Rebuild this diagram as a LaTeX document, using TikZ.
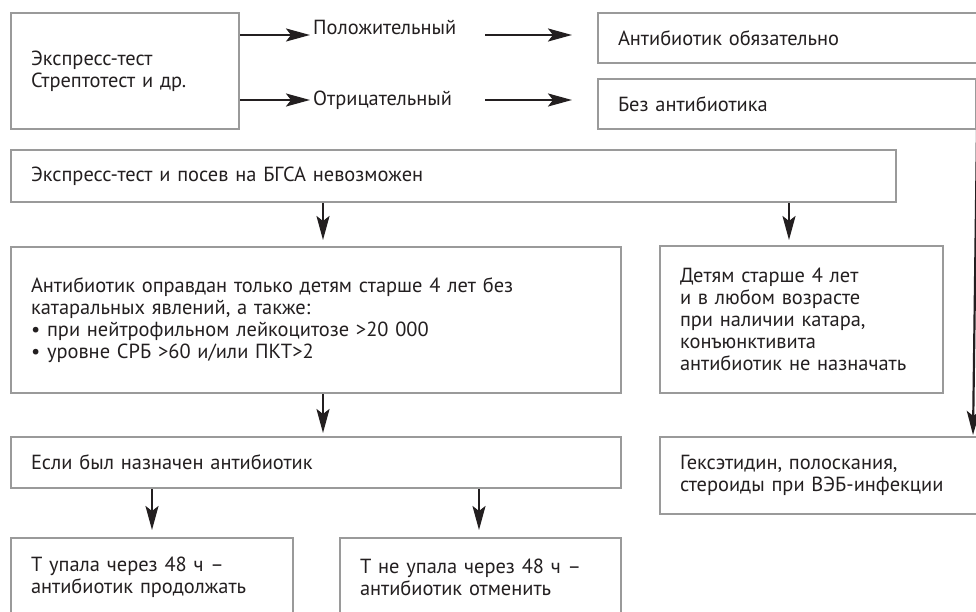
\documentclass[tikz,border=0pt]{standalone}
\usepackage{fontspec}
\setmainfont{PT Sans}
\usetikzlibrary{arrows.meta}
\definecolor{bord}{HTML}{9A9A9A}
\definecolor{ink}{HTML}{231F20}
\tikzset{
  box/.style={draw=bord, line width=2bp, inner xsep=20bp, inner ysep=0bp, anchor=north west,
    align=left, text=ink, font=\fontsize{20.5}{22}\selectfont},
  lbl/.style={inner sep=0bp, anchor=west, text=ink, font=\fontsize{20.5}{22}\selectfont},
  arr/.style={draw=ink, line width=2.2bp, -{Stealth[length=24bp,width=13bp,inset=5bp]}}
}
\begin{document}
\begin{tikzpicture}[x=1bp, y=-1bp]
\clip (0,0) rectangle (976,612);
\fill[white] (0,0) rectangle (976,612);
% boxes
\node[box, text width=188bp, minimum height=116bp] (b1) at (10,12) {Экспресс-тест\\Стрептотест и др.};
\node[box, text width=360bp, minimum height=50bp] (pos) at (597,12) {Антибиотик обязательно};
\node[box, text width=338bp, minimum height=50bp] (neg) at (597,78) {Без антибиотика};
\node[box, text width=845bp, minimum height=52bp] (imp) at (10,149) {Экспресс-тест и посев на БГСА невозможен};
\node[box, text width=570bp, minimum height=146bp] (abx) at (10,246) {Антибиотик оправдан только детям старше 4 лет без\\катаральных явлений, а также:\\• при нейтрофильном лейкоцитозе >20 000\\• уровне СРБ >60 и/или ПКТ>2};
\node[box, text width=243bp, minimum height=147bp] (kids) at (659,245) {Детям старше 4 лет\\и в любом возрасте\\при наличии катара,\\конъюнктивита\\антибиотик не назначать};
\node[box, text width=570bp, minimum height=51bp] (ifabx) at (10,436) {Если был назначен антибиотик};
\node[box, text width=242bp, minimum height=79bp] (fell) at (10,537) {Т упала через 48 ч –\\антибиотик продолжать};
\node[box, text width=241bp, minimum height=79bp] (notfell) at (339,537) {Т не упала через 48 ч –\\антибиотик отменить};
\node[box, text width=300bp, minimum height=77bp] (hex) at (659,436) {Гексэтидин, полоскания,\\стероиды при ВЭБ-инфекции};
% labels
\node[lbl] (plab) at (313,27) {Положительный};
\node[lbl] (nlab) at (313,100) {Отрицательный};
% helper coordinates
\coordinate (p1) at (310,35);
\coordinate (p2) at (485,35);
\coordinate (n1) at (310,100);
\coordinate (n2) at (485,100);
\coordinate (xa) at (323,0);
\coordinate (xk) at (789,0);
\coordinate (xf) at (152,0);
\coordinate (xn) at (479,0);
\coordinate (xh) at (973,0);
% arrows
\draw[arr] (b1.east |- p1) -- (p1);
\draw[arr, shorten >=25bp] (p2) -- (pos.west |- p2);
\draw[arr] (b1.east |- n1) -- (n1);
\draw[arr, shorten >=25bp] (n2) -- (neg.west |- n2);
\draw[arr, shorten >=6bp] (imp.south -| xa) -- (abx.north -| xa);
\draw[arr, shorten >=5bp] (imp.south -| xk) -- (kids.north -| xk);
\draw[arr, shorten >=3bp] (abx.south -| xa) -- (ifabx.north -| xa);
\draw[arr, shorten >=7bp] (ifabx.south -| xf) -- (fell.north -| xf);
\draw[arr, shorten >=7bp] (ifabx.south -| xn) -- (notfell.north -| xn);
\draw[arr, shorten >=1bp] (neg.south east) -- (hex.north -| xh);
\end{tikzpicture}
\end{document}
